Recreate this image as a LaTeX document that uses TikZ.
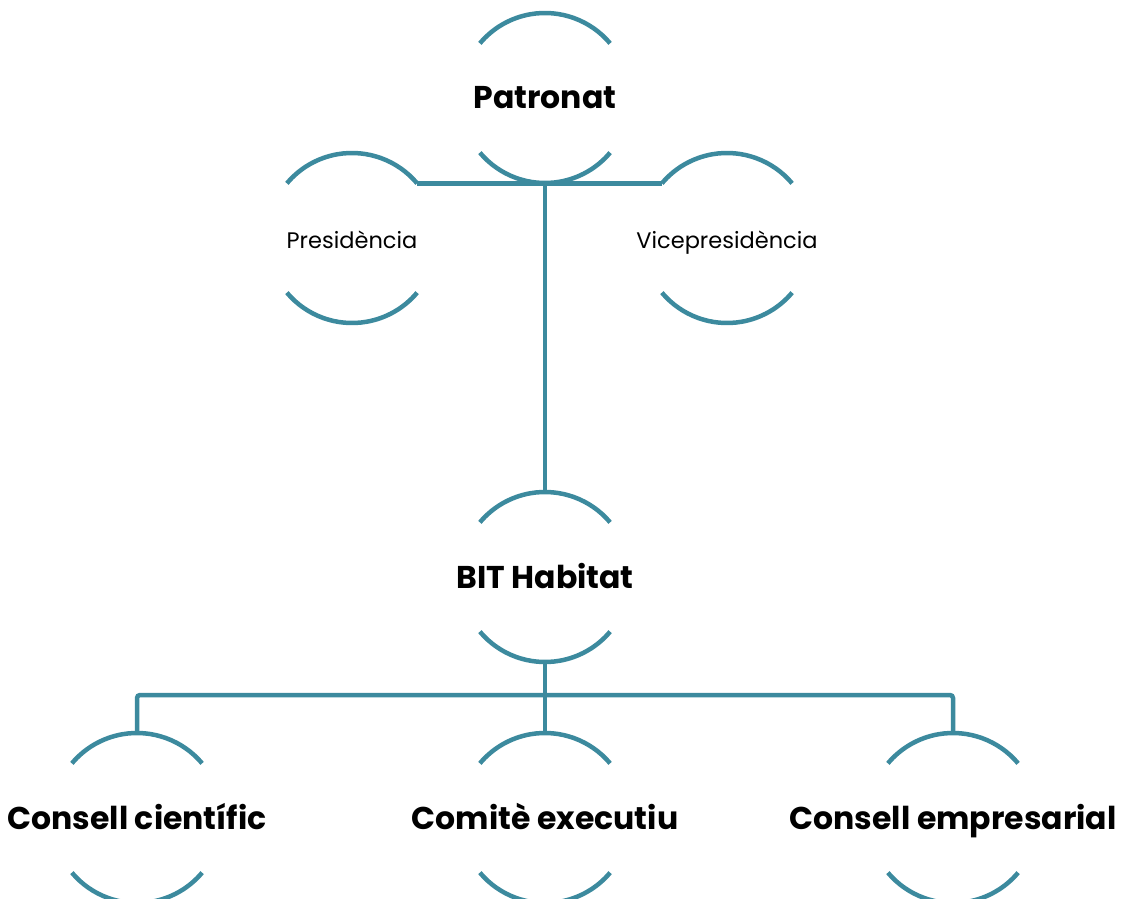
\documentclass[tikz,border=0pt]{standalone}
\usepackage{fontspec}
\setmainfont{Poppins}
\definecolor{teal}{RGB}{60,138,158}
\tikzset{
  ring/.style={circle, minimum size=170pt, inner sep=0pt, outer sep=0pt},
  arcline/.style={draw=teal, line width=4.5pt},
  conn/.style={draw=teal, line width=4.5pt},
  bigtxt/.style={font=\fontsize{31.5}{34}\selectfont\bfseries, text height=22pt, text depth=0pt, inner sep=0pt},
  smalltxt/.style={font=\fontsize{22.5}{26}\selectfont, text height=16pt, text depth=0pt, inner sep=0pt, yshift=-2pt},
}
\newcommand{\ringarcs}[1]{%
  \draw[arcline] (#1.40) arc[start angle=40, end angle=140, radius=85pt];
  \draw[arcline] (#1.220) arc[start angle=220, end angle=320, radius=85pt];
}
\begin{document}
\begin{tikzpicture}[x=1pt,y=1pt]
\useasboundingbox (0,0) rectangle (1128,-899);
\node[ring, label={[bigtxt]center:Patronat}] (pat) at (545,-98) {};
\node[ring, label={[smalltxt]center:Presidència}] (pres) at (352,-238) {};
\node[ring, label={[smalltxt]center:Vicepresidència}] (vice) at (727,-238) {};
\node[ring, label={[bigtxt]center:BIT Habitat}] (bit) at (545,-577) {};
\node[ring, label={[bigtxt]center:Consell científic}] (cc) at (137,-818) {};
\node[ring, label={[bigtxt]center:Comitè executiu}] (ce) at (545,-818) {};
\node[ring, label={[bigtxt]center:Consell empresarial}] (cem) at (953,-818) {};
\foreach \n in {pat,pres,vice,bit,cc,ce,cem} {\ringarcs{\n}}
\draw[conn] (pres.40) -- (vice.140);
\draw[conn] (pat.south) -- (bit.north);
\coordinate (hub) at ([yshift=-33pt]bit.south);
\draw[conn] (bit.south) -- (hub);
\draw[conn, rounded corners=3pt] (cc.north) |- (hub) -| (cem.north);
\draw[conn] (hub) -- (ce.north);
\end{tikzpicture}
\end{document}
